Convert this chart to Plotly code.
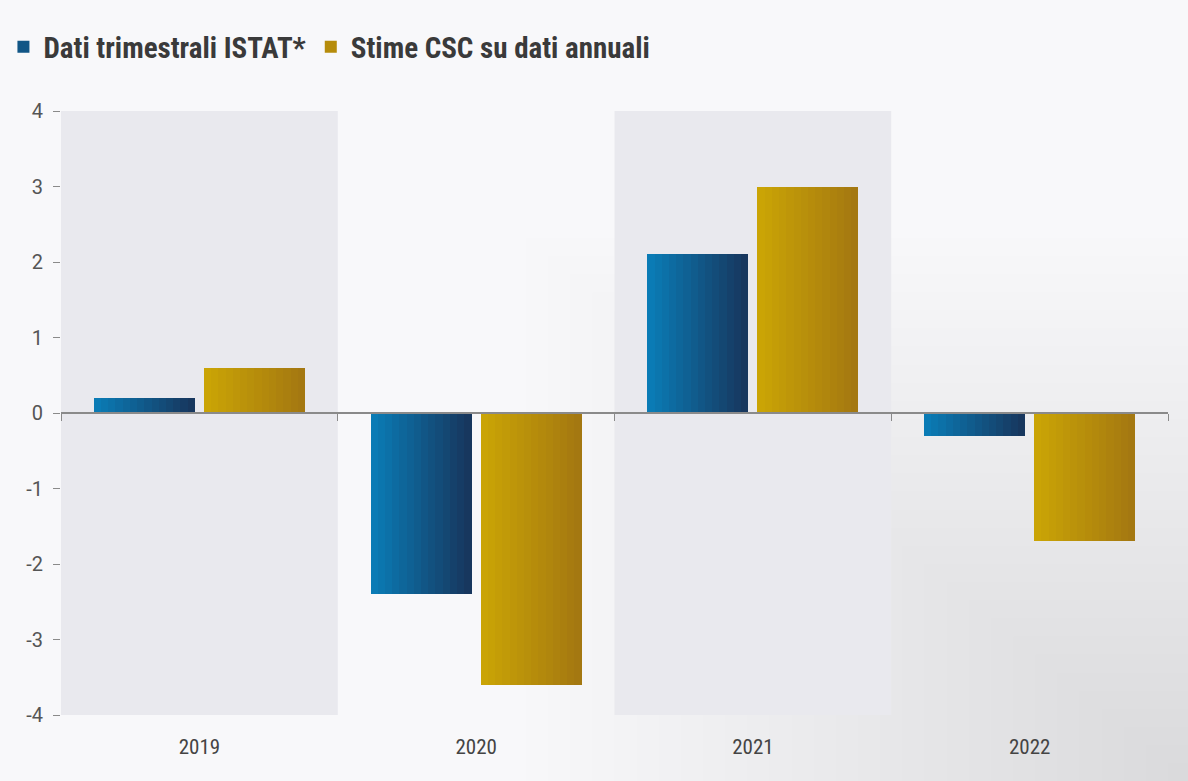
import plotly.graph_objects as go

years = ["2019", "2020", "2021", "2022"]
istat = [0.2, -2.4, 2.1, -0.3]
csc = [0.6, -3.6, 3.0, -1.7]
series_names = ["Dati trimestrali ISTAT*", "Stime CSC su dati annuali"]
y_ticks = [-4, -3, -2, -1, 0, 1, 2, 3, 4]
y_tick_labels = ["-4", "-3", "-2", "-1", "0", "1", "2", "3", "4"]

NARROW = "Roboto Condensed, DejaVu Sans Condensed, Liberation Sans Narrow, Arial Narrow, Roboto"

# style: gradient ends of each series (left -> right)
grad = {
    series_names[0]: ("#0a7bb5", "#17375e"),
    series_names[1]: ("#caa405", "#a47811"),
}
bar_w = 0.365      # width of a single bar, in category units
inner_gap = 0.033  # gap between the two bars of a year
n_slices = 14


def mix(c1, c2, t):
    a = [int(c1[i:i + 2], 16) for i in (1, 3, 5)]
    b = [int(c2[i:i + 2], 16) for i in (1, 3, 5)]
    return "#%02x%02x%02x" % tuple(round(a[k] + (b[k] - a[k]) * t) for k in range(3))


fig = go.Figure()
series = [(series_names[0], istat, -(bar_w + inner_gap / 2)),
          (series_names[1], csc, inner_gap / 2)]
for rank, (name, vals, off0) in enumerate(series):
    c_left, c_right = grad[name]
    sw = bar_w / n_slices
    for s in range(n_slices):
        t = s / (n_slices - 1)
        w = sw * 1.5 if s < n_slices - 1 else sw
        fig.add_trace(go.Bar(
            x=years, y=vals, name=name, legendgroup=name,
            showlegend=(s == n_slices // 2), legendrank=rank + 1,
            offset=off0 + s * sw, width=w,
            marker=dict(color=mix(c_left, c_right, t), line=dict(width=0)),
            hovertemplate=name + "<br>%{x}: %{y}<extra></extra>",
        ))

# helper trace for the zero-line axis with boundary ticks
fig.add_trace(go.Scatter(x=years, y=[None] * len(years), xaxis="x2",
                         showlegend=False, hoverinfo="skip", mode="markers"))

# soft background shading towards the bottom-right corner
n_shade = 30
for k in range(1, n_shade + 1):
    fig.add_shape(type="rect", xref="paper", yref="paper",
                  x0=1.02 - k * 0.02, x1=1.02, y0=-0.11, y1=-0.11 + k * 0.03,
                  fillcolor="rgba(128,128,140,0.006)", line=dict(width=0), layer="below")

# shaded bands behind alternate years
for i, yr in enumerate(years):
    if i % 2 == 0:
        fig.add_shape(type="rect", xref="x", yref="y", x0=i - 0.5, x1=i + 0.5,
                      y0=y_ticks[0], y1=y_ticks[-1], fillcolor="#e9e9ee",
                      line=dict(width=0), layer="below")

fig.update_layout(
    width=1188, height=781,
    margin=dict(l=61, r=20, t=111, b=66, autoexpand=False),
    paper_bgcolor="#f8f8fa",
    plot_bgcolor="rgba(0,0,0,0)",
    barmode="overlay", bargap=0, bargroupgap=0,
    legend=dict(orientation="h", x=-0.052, y=1.106, xanchor="left", yanchor="middle",
                font=dict(family=NARROW, size=29, color="#3a3a3a", weight=700),
                itemwidth=30, traceorder="normal", bgcolor="rgba(0,0,0,0)",
                itemclick=False, itemdoubleclick=False),
    font=dict(family="Roboto", color="#444"),
    showlegend=True,
)
fig.update_xaxes(type="category", categoryorder="array", categoryarray=years,
                 range=[-0.5, 3.5], showgrid=False, showline=False, zeroline=False,
                 ticks="", tickfont=dict(family=NARROW, size=21, color="#444"),
                 ticklabelstandoff=17, fixedrange=True)
fig.update_layout(xaxis2=dict(type="category", categoryorder="array", categoryarray=years,
                              range=[-0.5, 3.5], overlaying="x", anchor="free", position=0.5,
                              side="bottom", showline=True, linecolor="#8a8a8a", linewidth=1.5,
                              ticks="outside", tickson="boundaries", ticklen=7,
                              tickcolor="#8a8a8a", showticklabels=False, showgrid=False,
                              zeroline=False, fixedrange=True))
fig.update_yaxes(range=[y_ticks[0], y_ticks[-1]], tickvals=y_ticks, ticktext=y_tick_labels,
                 showgrid=False, zeroline=False, showline=False, fixedrange=True,
                 ticks="outside", ticklen=7, tickcolor="#8a8a8a", ticklabelstandoff=6,
                 tickfont=dict(family="Roboto", size=20, color="#555"))

fig.write_html("out.html", config={"displayModeBar": False},
               post_script="document.body.style.margin='0';")
